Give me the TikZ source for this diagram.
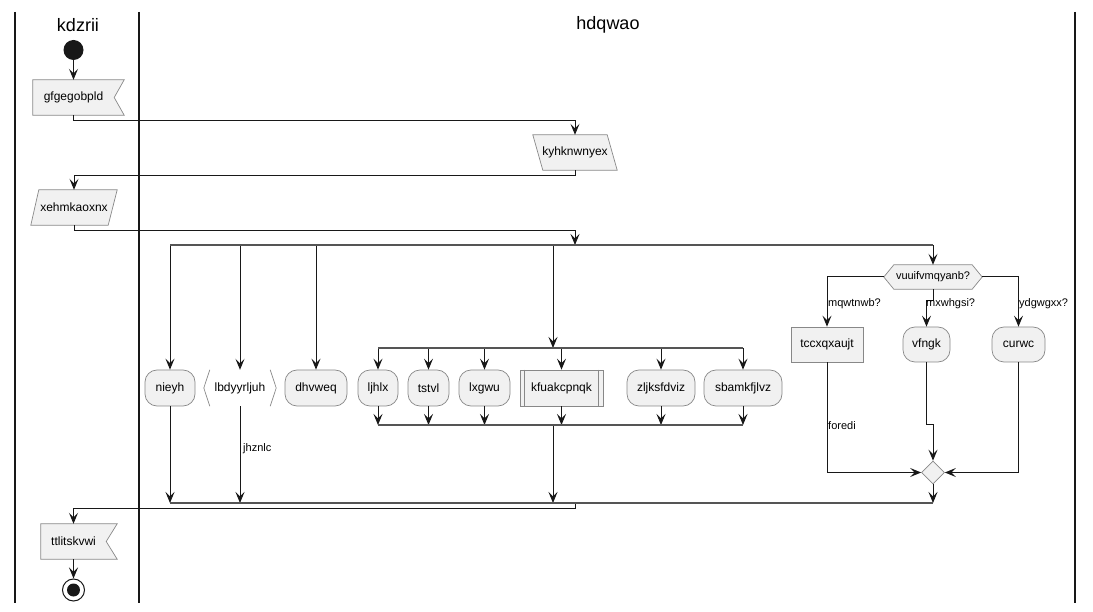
\documentclass[tikz,border=0pt]{standalone}
\usepackage{fontspec}
\setmainfont{Liberation Sans}
\usetikzlibrary{arrows.meta,shapes.geometric,backgrounds,calc}
\definecolor{nodefill}{HTML}{F1F1F1}
\definecolor{nodeborder}{HTML}{888888}
\definecolor{linec}{HTML}{181818}
\definecolor{barc}{HTML}{555555}
\begin{document}
\begin{tikzpicture}[x=1pt,y=-1pt,
 box/.style={draw=nodeborder, fill=nodefill, line width=0.7pt, inner sep=0pt, minimum height=36pt, font=\fontsize{12}{14}\selectfont, text=black},
 rbox/.style={box, rounded corners=12pt},
 txt/.style={inner sep=0pt, minimum height=35pt, font=\fontsize{12}{14}\selectfont},
 shp/.style={draw=nodeborder, fill=nodefill, line width=0.7pt},
 brk/.style={draw=nodeborder, line width=0.7pt},
 conn/.style={draw=linec, line width=1pt},
 arr/.style={conn, -{Stealth[length=11pt,width=9pt,inset=4.5pt]}},
 bar/.style={draw=barc, line width=2.5pt},
 lbl/.style={anchor=west, inner sep=0pt, font=\fontsize{11}{13}\selectfont},
 lane/.style={draw=linec, line width=1.6pt},
 title/.style={font=\fontsize{18}{21}\selectfont}]

\useasboundingbox (0,0) rectangle (1093,612);

% lanes
\draw[lane] (15,12) -- (15,603);
\draw[lane] (139,12) -- (139,603);
\draw[lane] (1075,12) -- (1075,603);
\node[title] (t1) at (78,25) {kdzrii};
\node[title] (t2) at (608,25) {hdqwao};

% nodes
\node[circle, fill=linec, minimum size=20pt, inner sep=0pt] (start) at (73.5,50) {};
\node[txt, minimum width=81pt] (g) at (73.5,97.5) {gfgegobpld};
\node[txt, minimum width=84pt] (k) at (575,152.5) {kyhknwnyex};
\node[txt, minimum width=86pt] (x) at (74,207.5) {xehmkaoxnx};

\node[rbox, minimum width=50pt] (nieyh) at (170,388) {nieyh};
\node[txt, minimum width=72pt, minimum height=36pt] (lbd) at (240,388) {lbdyyrljuh};
\node[rbox, minimum width=62pt] (dhv) at (316,388) {dhvweq};
\node[rbox, minimum width=40pt] (ljh) at (378,388) {ljhlx};
\node[rbox, minimum width=41pt] (tst) at (428.5,388) {tstvl};
\node[rbox, minimum width=51pt] (lxg) at (484.5,388) {lxgwu};
\node[box, minimum width=83pt] (kfu) at (561.5,388) {kfuakcpnqk};
\node[rbox, minimum width=68pt] (zlj) at (661,388) {zljksfdviz};
\node[rbox, minimum width=78pt] (sba) at (743,388) {sbamkfjlvz};

\node[txt, minimum width=98pt, minimum height=24pt, font=\fontsize{11}{13}\selectfont] (hex) at (933,277) {vuuifvmqyanb?};
\node[box, minimum width=72pt, minimum height=35pt] (tcc) at (827,344.5) {tccxqxaujt};
\node[rbox, minimum width=47pt, minimum height=35pt] (vfn) at (926.5,344.5) {vfngk};
\node[rbox, minimum width=53pt, minimum height=35pt] (cur) at (1018.5,344.5) {curwc};
\node[diamond, shp, minimum width=23pt, minimum height=23pt, inner sep=0pt] (dia) at (933,472.5) {};

\node[txt, minimum width=65pt] (ttl) at (73.5,541.5) {ttlitskvwi};
\node[circle, draw=linec, fill=white, line width=1pt, minimum size=22pt, inner sep=0pt] (end) at (73.5,590) {};
\fill[linec] (end.center) circle (6.5);

% custom shapes
\begin{scope}[on background layer]
\path[shp] (g.north west) -- ([shift={(10,0)}]g.north east) -- (g.east) -- ([shift={(10,0)}]g.south east) -- (g.south west) -- cycle;
\path[shp] (k.north west) -- ([shift={(-10,0)}]k.north east) -- (k.south east) -- ([shift={(10,0)}]k.south west) -- cycle;
\path[shp] ([shift={(8,0)}]x.north west) -- (x.north east) -- ([shift={(-9,0)}]x.south east) -- (x.south west) -- cycle;
\path[shp] (hex.west) -- ([shift={(10,0)}]hex.north west) -- ([shift={(-10,0)}]hex.north east) -- (hex.east) -- ([shift={(-10,0)}]hex.south east) -- ([shift={(10,0)}]hex.south west) -- cycle;
\path[shp] (ttl.north west) -- ([shift={(11,0)}]ttl.north east) -- (ttl.east) -- ([shift={(11,0)}]ttl.south east) -- (ttl.south west) -- cycle;
\end{scope}
\draw[brk] ([shift={(6,0)}]lbd.north west) -- (lbd.west) -- ([shift={(6,0)}]lbd.south west);
\draw[brk] ([shift={(-6,0)}]lbd.north east) -- (lbd.east) -- ([shift={(-6,0)}]lbd.south east);
\draw[brk] ([shift={(5,0)}]kfu.north west) -- ([shift={(5,0)}]kfu.south west);
\draw[brk] ([shift={(-5,0)}]kfu.north east) -- ([shift={(-5,0)}]kfu.south east);

% coordinates
\coordinate (f1a) at (575,245);
\coordinate (f1b) at (553,245);
\coordinate (f1L) at (170,245);
\coordinate (f1R) at (933,245);
\coordinate (f2a) at (553,348);
\coordinate (f2L) at (378,348);
\coordinate (f2R) at (743,348);
\coordinate (j2a) at (553,425);
\coordinate (j2L) at (378,425);
\coordinate (j2R) at (743,425);
\coordinate (j1a) at (553,503);
\coordinate (j1b) at (575,503);
\coordinate (j1L) at (170,503);
\coordinate (j1R) at (933,503);

% connectors
\draw[arr] (start) -- (g.north);
\draw[arr] (g.south) -- ++(0,5) -| (k.north);
\draw[arr] (k.south) -- ++(0,5) -| (x.north);
\draw[arr] (x.south) -- ++(0,5) -| (f1a);

\foreach \n in {nieyh,lbd,dhv} \draw[arr] (\n.north |- f1L) -- (\n.north);
\draw[arr] (f1b) -- (f2a);
\draw[arr] (f1R) -- (hex.north);
\foreach \n in {ljh,tst,lxg,kfu,zlj,sba} {
  \draw[arr] (\n.north |- f2L) -- (\n.north);
  \draw[arr] (\n.south) -- (\n.south |- j2L);
}
\draw[arr] (j2a) -- (j1a);
\draw[arr] (nieyh.south) -- (nieyh.south |- j1L);
\draw[arr] (lbd.south) -- (lbd.south |- j1L);
\node[lbl] (l1) at (243,449) {jhznlc};

\draw[arr] (hex.west) -| (tcc.north);
\node[lbl] (l2) at (828,304) {mqwtnwb?};
\draw[arr] (hex.south) -- ++(0,11) -| (vfn.north);
\node[lbl] (l3) at (926,304) {mxwhgsi?};
\draw[arr] (hex.east) -| (cur.north);
\node[lbl] (l4) at (1019,304) {ydgwgxx?};
\draw[arr] (tcc.south) |- (dia.west);
\node[lbl] (l5) at (828,426) {foredi};
\draw[arr] (vfn.south) -- ++(0,62) -| (dia.north);
\draw[arr] (cur.south) |- (dia.east);
\draw[arr] (dia.south) -- (dia.south |- j1R);

\draw[arr] (j1b) -- ++(0,5) -| (ttl.north);
\draw[arr] (ttl.south) -- (end.north);

% bars
\draw[bar] (f1L) -- (f1R);
\draw[bar] (f2L) -- (f2R);
\draw[bar] (j2L) -- (j2R);
\draw[bar] (j1L) -- (j1R);
\end{tikzpicture}
\end{document}
